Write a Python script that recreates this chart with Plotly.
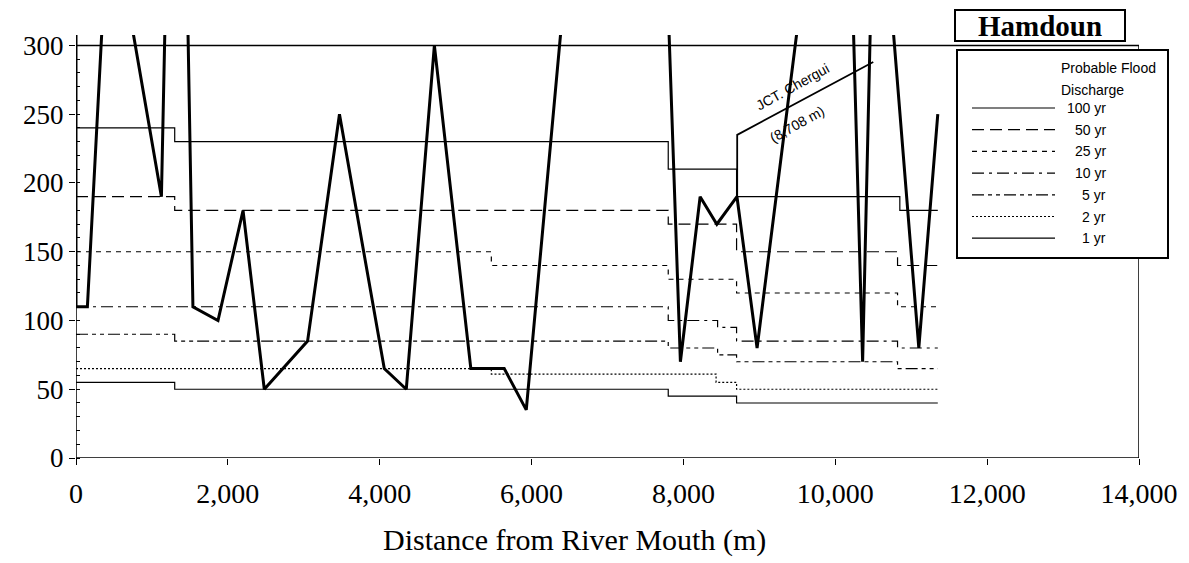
import plotly.graph_objects as go

# water surface levels (step lines) per return period
x_100 = [0, 1300, 7800, 8700, 10850, 11350]
y_100 = [240, 230, 210, 190, 180, 180]
x_50 = [0, 1300, 7800, 8700, 10820, 11350]
y_50 = [190, 180, 170, 150, 140, 140]
x_25 = [0, 5470, 7800, 8700, 10820, 11350]
y_25 = [150, 140, 130, 120, 110, 110]
x_10 = [0, 7800, 8450, 8700, 10820, 11350]
y_10 = [110, 100, 95, 85, 80, 80]
x_5 = [0, 1300, 7800, 8450, 8700, 10820, 11350]
y_5 = [90, 85, 80, 75, 70, 65, 65]
x_2 = [0, 5470, 8430, 8700, 11350]
y_2 = [65, 61, 55, 50, 50]
x_1 = [0, 1300, 7800, 8700, 11350]
y_1 = [55, 50, 45, 40, 40]

# heavy profile line (runs off the top of the chart)
prof_x = [0, 0, 150, 340, 750, 1125, 1170, 1475, 1540, 1870, 2200, 2480, 3050,
          3470, 4060, 4350, 4720, 5200, 5640, 5930, 6385, 7810, 7960, 8220,
          8440, 8705, 8970, 9495, 10240, 10360, 10460, 10765, 11100, 11350]
prof_y = [310, 110, 110, 310, 310, 190, 310, 310, 110, 100, 180, 50, 85,
          250, 65, 50, 300, 65, 65, 35, 310, 310, 70, 190,
          170, 190, 80, 310, 310, 70, 310, 310, 80, 250]

# junction leader
lead_x = [8708, 8708, 10500]
lead_y = [190, 235, 288]

series = [
    ("100 yr", x_100, y_100, "solid"),
    ("50 yr", x_50, y_50, "12px,6px"),
    ("25 yr", x_25, y_25, "5px,5px"),
    ("10 yr", x_10, y_10, "12px,5px,3px,5px"),
    ("5 yr", x_5, y_5, "12px,4px,4px,4px,4px,4px"),
    ("2 yr", x_2, y_2, "2px,2px"),
    ("1 yr", x_1, y_1, "solid"),
]

# the page body adds an 8px margin, so work in page pixels and shift
OFF = 8
W, H = 1189 - OFF, 563 - OFF
L, R, T, B = 76 - OFF, 50, 35 - OFF, 105


def px(x):
    return (x - OFF - L) / (W - L - R)


def py(y):
    return (H - B - (y - OFF)) / (H - T - B)


def note(text, x, y, size, family="Liberation Sans", xanchor="center"):
    return dict(text=text, xref="paper", yref="paper", x=px(x), y=py(y),
                xanchor=xanchor, yanchor="middle", showarrow=False,
                font=dict(family=family, size=size, color="black"))


fig = go.Figure()

for name, xs, ys, dash in series:
    fig.add_trace(go.Scatter(x=xs, y=ys, mode="lines", name=name,
                             line=dict(color="black", width=1.2, dash=dash, shape="hv"),
                             showlegend=False, hoverinfo="skip"))

fig.add_trace(go.Scatter(x=prof_x, y=prof_y, mode="lines",
                         line=dict(color="black", width=3),
                         showlegend=False, hoverinfo="skip"))
fig.add_trace(go.Scatter(x=lead_x, y=lead_y, mode="lines",
                         line=dict(color="black", width=1.8),
                         showlegend=False, hoverinfo="skip"))

shapes = [
    # chart frame
    dict(type="rect", xref="x", yref="y", x0=0, x1=14000, y0=0, y1=300,
         line=dict(color="black", width=1.5)),
    # title box
    dict(type="rect", xref="paper", yref="paper", x0=px(955), x1=px(1125),
         y0=py(41), y1=py(10), line=dict(color="black", width=2), fillcolor="white"),
    # legend box
    dict(type="rect", xref="paper", yref="paper", x0=px(957), x1=px(1168),
         y0=py(258), y1=py(50), line=dict(color="black", width=2), fillcolor="white"),
]

annotations = [
    note("<b>Hamdoun</b>", 1040, 26, 29, family="Liberation Serif"),
    note("Probable Flood", 1059, 68, 14, xanchor="left"),
    note("Discharge", 1059, 90, 14, xanchor="left"),
    note("Distance from River Mouth (m)", 574, 540, 30, family="Liberation Serif"),
    dict(text="JCT. Chergui", x=9430, y=270, textangle=-29, showarrow=False,
         font=dict(family="Liberation Sans", size=14, color="black")),
    dict(text="(8,708 m)", x=9500, y=243, textangle=-29, showarrow=False,
         font=dict(family="Liberation Sans", size=14, color="black")),
]

for i, (name, xs, ys, dash) in enumerate(series):
    yy = 108 + i * 21.7
    shapes.append(dict(type="line", xref="paper", yref="paper",
                       x0=px(972), x1=px(1055), y0=py(yy), y1=py(yy),
                       line=dict(color="black", width=1.2, dash=dash)))
    annotations.append(note(name, 1108, yy, 14, xanchor="right"))

fig.update_layout(
    width=W, height=H,
    margin=dict(l=L, r=R, t=T, b=B),
    paper_bgcolor="white", plot_bgcolor="white",
    shapes=shapes, annotations=annotations,
    font=dict(family="Liberation Serif", color="black"),
)
fig.update_xaxes(range=[0, 14000], dtick=2000, tickformat=",", showgrid=False,
                 zeroline=False, showline=False, ticks="outside", ticklen=6,
                 tickcolor="black", ticklabelstandoff=4,
                 tickfont=dict(family="Liberation Serif", size=28, color="black"))
fig.update_yaxes(range=[0, 307.6], tickvals=[0, 50, 100, 150, 200, 250, 300],
                 showgrid=False, zeroline=False, showline=False, ticks="outside",
                 ticklen=6, tickcolor="black",
                 minor=dict(dtick=10, ticks="inside", ticklen=4, tickcolor="black"),
                 tickfont=dict(family="Liberation Serif", size=27, color="black"))

fig.write_html("out.html")
